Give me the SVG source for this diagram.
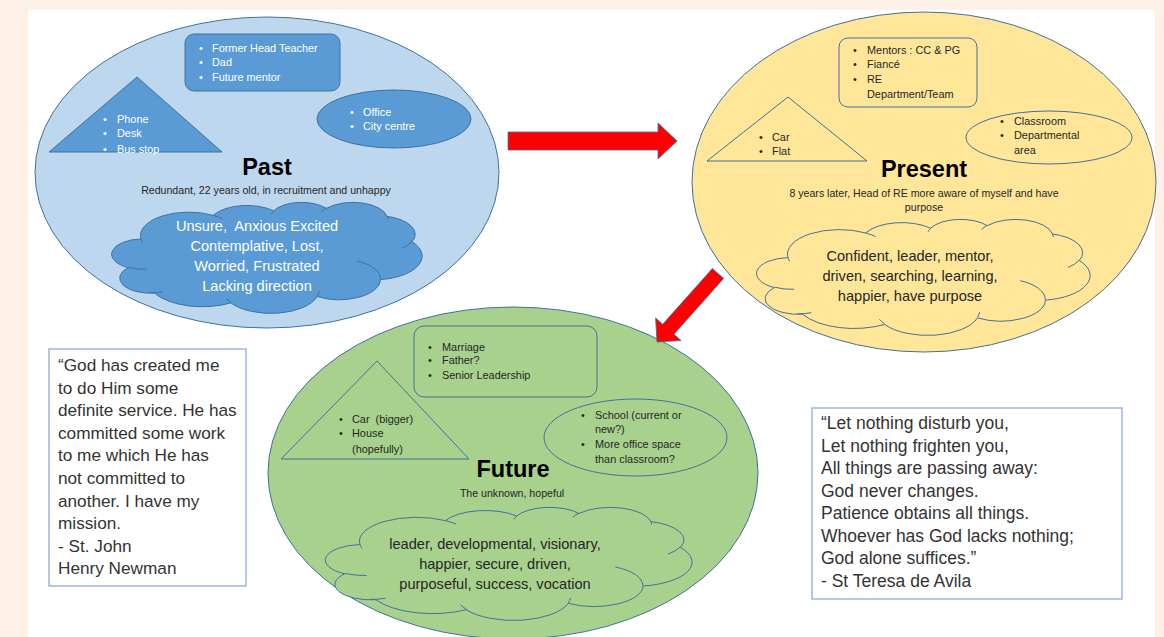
<svg xmlns="http://www.w3.org/2000/svg" xmlns:xlink="http://www.w3.org/1999/xlink" width="1164" height="637" viewBox="0 0 1164 637">
<defs>
<style>
text{font-family:"Liberation Sans",Arial,sans-serif;fill:#262626}
.w{fill:#ffffff}
.b{font-size:10.9px}
.sub{font-size:10.6px}
.title{font-size:23.5px;font-weight:bold;fill:#000}
.cl{font-size:14.6px}
.q{font-size:17.2px;fill:#333}
.q2{font-size:17.5px;fill:#333}
.sh{stroke:#41719c;stroke-width:1}
.pastIn{fill:#5b9bd5;stroke:#41719c;stroke-width:1}
.line{fill:none;stroke:#41719c;stroke-width:1}
.arrow{fill:#ff0000;stroke:#41719c;stroke-width:0.8}
.quote{fill:#fff;stroke:#8faadc;stroke-width:1.3}
</style>
<path id="cloudOut" vector-effect="non-scaling-stroke" d="M3900 14370 A6753 9190 0 0 1 14005 5202 A5333 7267 0 0 1 22455 3432 A4365 5945 0 0 1 29832 2480 A4857 6595 0 0 1 38317 5576 A5333 7273 0 0 1 41817 15459 A6775 9220 0 0 1 37403 30202 A5785 7867 0 0 1 28554 36812 A6752 9215 0 0 1 16479 39264 A7720 10543 0 0 1 5804 35471 A4360 5918 0 0 1 2112 25550 A4345 5945 0 0 1 3900 14370 Z"/>
<path id="cloudIn" vector-effect="non-scaling-stroke" fill="none" d="M4693 26177 A4345 5945 0 0 1 2160 25380 M6928 34899 A4360 5918 0 0 1 5104 35314 M16478 39090 A6752 9215 0 0 1 15810 37351 M28827 34751 A6752 9215 0 0 1 28560 36660 M34129 22954 A5785 7867 0 0 1 37380 30090 M41798 15354 A5333 7273 0 0 1 40350 18030 M38324 5426 A4857 6595 0 0 1 38401 6690 M29078 3952 A4857 6595 0 0 1 29820 2338 M22141 4720 A4365 5945 0 0 1 22500 3331 M14000 5192 A6753 9190 0 0 1 15299 6539 M4127 15789 A6753 9190 0 0 1 3900 14371"/>
</defs>

<rect x="0" y="0" width="1164" height="637" fill="#fdf0e7"/>
<rect x="28" y="10" width="1127" height="627" fill="#ffffff"/>

<g id="past">
  <ellipse cx="267" cy="172.5" rx="232" ry="155.5" fill="#bdd7ee" class="sh"/>
  <rect x="185" y="34" width="155" height="57" rx="9" class="pastIn"/>
  <text class="b w" x="199" y="52">•</text><text class="b w" x="212" y="52">Former Head Teacher</text>
  <text class="b w" x="199" y="66">•</text><text class="b w" x="212" y="66">Dad</text>
  <text class="b w" x="199" y="81">•</text><text class="b w" x="212" y="81">Future mentor</text>
  <polygon points="137,77 49,152 222,152" class="pastIn"/>
  <text class="b w" x="103" y="123">•</text><text class="b w" x="117" y="123">Phone</text>
  <text class="b w" x="103" y="137">•</text><text class="b w" x="117" y="137">Desk</text>
  <text class="b w" x="103" y="153">•</text><text class="b w" x="117" y="153">Bus stop</text>
  <ellipse cx="394" cy="119" rx="77" ry="29" class="pastIn"/>
  <text class="b w" x="350" y="116">•</text><text class="b w" x="363" y="116">Office</text>
  <text class="b w" x="350" y="130">•</text><text class="b w" x="363" y="130">City centre</text>
  <text class="title" x="267" y="175" text-anchor="middle">Past</text>
  <text class="sub" x="266" y="194" text-anchor="middle">Redundant, 22 years old, in recruitment and unhappy</text>
  <g transform="translate(113,202) scale(0.0071528,0.0025694)" fill="#5b9bd5" stroke="#41719c" stroke-width="1">
    <use xlink:href="#cloudOut"/>
    <use xlink:href="#cloudIn"/>
  </g>
  <text class="cl w" x="257" y="231" text-anchor="middle" xml:space="preserve">Unsure,  Anxious Excited</text>
  <text class="cl w" x="257" y="251" text-anchor="middle">Contemplative, Lost,</text>
  <text class="cl w" x="257" y="271" text-anchor="middle">Worried, Frustrated</text>
  <text class="cl w" x="257" y="291" text-anchor="middle">Lacking direction</text>
</g>

<g id="present">
  <ellipse cx="924" cy="182" rx="232" ry="170" fill="#ffe699" class="sh"/>
  <rect x="839" y="38" width="138" height="69" rx="9" class="line"/>
  <text class="b" x="853" y="54">•</text><text class="b" x="867" y="54">Mentors : CC &amp; PG</text>
  <text class="b" x="853" y="68">•</text><text class="b" x="867" y="68">Fiancé</text>
  <text class="b" x="853" y="83">•</text><text class="b" x="867" y="83">RE</text>
  <text class="b" x="867" y="98">Department/Team</text>
  <polygon points="788,97 707,161 867,161" class="line"/>
  <text class="b" x="759" y="141">•</text><text class="b" x="772" y="141">Car</text>
  <text class="b" x="759" y="155">•</text><text class="b" x="772" y="155">Flat</text>
  <ellipse cx="1049" cy="137.5" rx="83" ry="26.5" class="line"/>
  <text class="b" x="1000" y="125">•</text><text class="b" x="1014" y="125">Classroom</text>
  <text class="b" x="1000" y="139">•</text><text class="b" x="1014" y="139">Departmental</text>
  <text class="b" x="1014" y="154">area</text>
  <text class="title" x="924" y="177" text-anchor="middle">Present</text>
  <text class="sub" x="924" y="197" text-anchor="middle">8 years later, Head of RE more aware of myself and have</text>
  <text class="sub" x="924" y="211" text-anchor="middle">purpose</text>
  <g transform="translate(758,219) scale(0.0076852,0.0026852)" fill="#ffe699" stroke="#41719c" stroke-width="1">
    <use xlink:href="#cloudOut"/>
    <use xlink:href="#cloudIn"/>
  </g>
  <text class="cl" x="910" y="261" text-anchor="middle">Confident, leader, mentor,</text>
  <text class="cl" x="910" y="281" text-anchor="middle">driven, searching, learning,</text>
  <text class="cl" x="910" y="301" text-anchor="middle">happier, have purpose</text>
</g>

<g id="future">
  <ellipse cx="513" cy="473" rx="245" ry="166" fill="#a9d18e" class="sh"/>
  <rect x="414" y="326" width="183" height="71" rx="10" class="line"/>
  <text class="b" x="428" y="351">•</text><text class="b" x="442" y="351">Marriage</text>
  <text class="b" x="428" y="364">•</text><text class="b" x="442" y="364">Father?</text>
  <text class="b" x="428" y="379">•</text><text class="b" x="442" y="379">Senior Leadership</text>
  <polygon points="377,361 281,459 469,459" class="line"/>
  <text class="b" x="339" y="423">•</text><text class="b" x="352" y="423" xml:space="preserve">Car  (bigger)</text>
  <text class="b" x="339" y="437">•</text><text class="b" x="352" y="437">House</text>
  <text class="b" x="352" y="453">(hopefully)</text>
  <ellipse cx="635.5" cy="437.5" rx="91.5" ry="38.5" class="line"/>
  <text class="b" x="581" y="419">•</text><text class="b" x="595" y="419">School (current or</text>
  <text class="b" x="595" y="433">new?)</text>
  <text class="b" x="581" y="448">•</text><text class="b" x="595" y="448">More office space</text>
  <text class="b" x="595" y="463">than classroom?</text>
  <text class="title" x="513" y="477" text-anchor="middle">Future</text>
  <text class="sub" x="512" y="497" text-anchor="middle">The unknown, hopeful</text>
  <g transform="translate(327,507) scale(0.0084491,0.0026157)" fill="#a9d18e" stroke="#41719c" stroke-width="1">
    <use xlink:href="#cloudOut"/>
    <use xlink:href="#cloudIn"/>
  </g>
  <text class="cl" x="495" y="549" text-anchor="middle">leader, developmental, visionary,</text>
  <text class="cl" x="495" y="569" text-anchor="middle">happier, secure, driven,</text>
  <text class="cl" x="495" y="589" text-anchor="middle">purposeful, success, vocation</text>
</g>

<g id="quote-newman">
  <rect x="49" y="349" width="197" height="237" class="quote"/>
  <text class="q" x="58" y="371">“God has created me</text>
  <text class="q" x="58" y="393.6">to do Him some</text>
  <text class="q" x="58" y="416.2">definite service. He has</text>
  <text class="q" x="58" y="438.8">committed some work</text>
  <text class="q" x="58" y="461.4">to me which He has</text>
  <text class="q" x="58" y="484">not committed to</text>
  <text class="q" x="58" y="506.6">another. I have my</text>
  <text class="q" x="58" y="529.2">mission.</text>
  <text class="q" x="58" y="551.8">- St. John</text>
  <text class="q" x="58" y="574.4">Henry Newman</text>
</g>

<g id="quote-teresa">
  <rect x="812" y="408" width="310" height="191" class="quote"/>
  <text class="q2" x="821" y="429">“Let nothing disturb you,</text>
  <text class="q2" x="821" y="451.5">Let nothing frighten you,</text>
  <text class="q2" x="821" y="474">All things are passing away:</text>
  <text class="q2" x="821" y="496.5">God never changes.</text>
  <text class="q2" x="821" y="519">Patience obtains all things.</text>
  <text class="q2" x="821" y="541.5">Whoever has God lacks nothing;</text>
  <text class="q2" x="821" y="564">God alone suffices.”</text>
  <text class="q2" x="821" y="586.5">- St Teresa de Avila</text>
</g>

<g id="connectors">
  <polygon class="arrow" points="508,132 658,132 658,123 677,141 658,159 658,150 508,150"/>
  <polygon class="arrow" transform="translate(718,273.5) rotate(131.7)" points="0,-7.5 74.7,-7.5 74.7,-17 91.7,0 74.7,17 74.7,7.5 0,7.5"/>
</g>
</svg>
